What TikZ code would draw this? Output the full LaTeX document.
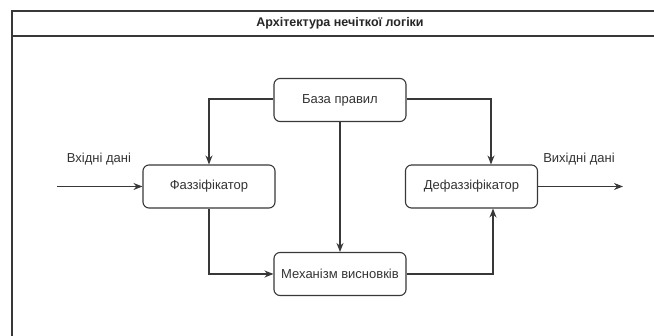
\documentclass[tikz,border=0pt]{standalone}
\usepackage{fontspec}
\setmainfont{Liberation Sans}
\usetikzlibrary{arrows.meta}
\begin{document}
\begin{tikzpicture}[x=1pt,y=-1pt,
  line/.style={draw=black!78,line width=1.1pt},
  blk/.style={line,rounded corners=6pt,minimum width=132pt,minimum height=43pt,inner sep=0pt,font=\fontsize{13}{15}\selectfont,text=black!80},
  arr/.style={line,-{Stealth[length=9pt,width=7pt]}},
  lbl/.style={font=\fontsize{13}{15}\selectfont,text=black!80,inner sep=0pt}]
\useasboundingbox (0,0) rectangle (654,336);
\fill[white] (0,0) rectangle (654,336);
% frame
\draw[line] (668,345) -- (12,345) -- (12,11) -- (668,11);
\draw[line] (12,36) -- (668,36);
\node[font=\bfseries\fontsize{12.5}{14}\selectfont,text=black!85] (title) at (340,23.5) {Архітектура нечіткої логіки};
% blocks
\node[blk] (base) at (340,100) {База правил};
\node[blk] (fuzz) at (209,186.5) {Фаззіфікатор};
\node[blk] (defuzz) at (471.5,186.5) {Дефаззіфікатор};
\node[blk] (infer) at (340,274) {Механізм висновків};
% free ends
\coordinate (in) at (57,186.5);
\coordinate (out) at (623,186.5);
% connectors
\draw[arr] (in) -- (fuzz.west);
\draw[arr] (defuzz.east) -- (out);
\draw[arr] (base.west |- 0,99) -| (fuzz.north);
\draw[arr] (base.east |- 0,99) -| (defuzz.north -| 491,0);
\draw[arr] (base.south) -- (infer.north);
\draw[arr] (fuzz.south) |- (infer.west);
\draw[arr] (infer.east) -| (defuzz.south -| 493,0);
% labels
\node[lbl] (inl) at (99,159) {Вхідні дані};
\node[lbl] (outl) at (579,159) {Вихідні дані};
\end{tikzpicture}
\end{document}
